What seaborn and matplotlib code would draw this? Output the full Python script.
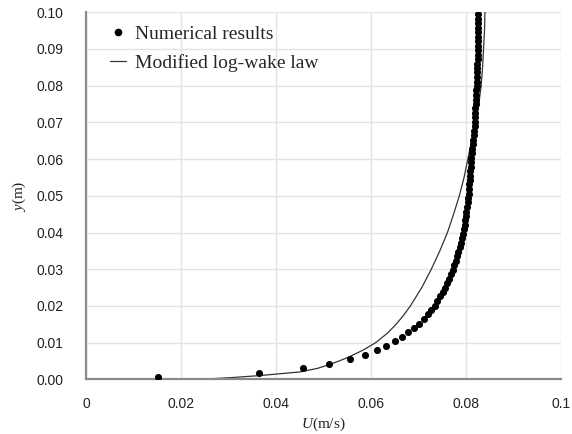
import matplotlib
matplotlib.use("Agg")
import matplotlib.pyplot as plt
import seaborn as sns
import pandas as pd
from matplotlib.lines import Line2D

# Numerical results (U in m/s, y in m)
num_y = [0.0006, 0.0018, 0.0030, 0.0043, 0.0055, 0.0067, 0.0079, 0.0091, 0.0104, 0.0116,
         0.0128, 0.0140, 0.0152, 0.0165, 0.0177, 0.0189, 0.0201, 0.0213, 0.0226, 0.0238,
         0.0250, 0.0262, 0.0274, 0.0287, 0.0299, 0.0311, 0.0323, 0.0335, 0.0348, 0.0360,
         0.0372, 0.0384, 0.0396, 0.0409, 0.0421, 0.0433, 0.0445, 0.0457, 0.0470, 0.0482,
         0.0494, 0.0506, 0.0518, 0.0531, 0.0543, 0.0555, 0.0567, 0.0579, 0.0592, 0.0604,
         0.0616, 0.0628, 0.0640, 0.0653, 0.0665, 0.0677, 0.0689, 0.0701, 0.0714, 0.0726,
         0.0738, 0.0750, 0.0762, 0.0775, 0.0787, 0.0799, 0.0811, 0.0823, 0.0836, 0.0848,
         0.0860, 0.0872, 0.0884, 0.0897, 0.0909, 0.0921, 0.0933, 0.0945, 0.0958, 0.0970,
         0.0982, 0.0994]
num_u = [0.0151, 0.0365, 0.0457, 0.0512, 0.0555, 0.0587, 0.0613, 0.0632, 0.0650, 0.0665,
         0.0679, 0.0691, 0.0702, 0.0712, 0.0720, 0.0727, 0.0734, 0.0740, 0.0746, 0.0751,
         0.0756, 0.0760, 0.0764, 0.0768, 0.0772, 0.0775, 0.0778, 0.0781, 0.0784, 0.0787,
         0.0789, 0.0791, 0.0793, 0.0795, 0.0797, 0.0799, 0.0800, 0.0801, 0.0803, 0.0804,
         0.0805, 0.0806, 0.0806, 0.0807, 0.0808, 0.0808, 0.0809, 0.0810, 0.0810, 0.0811,
         0.0812, 0.0813, 0.0814, 0.0815, 0.0816, 0.0817, 0.0818, 0.0818, 0.0819, 0.0820,
         0.0820, 0.0821, 0.0821, 0.0822, 0.0822, 0.0823, 0.0823, 0.0823, 0.0824, 0.0824,
         0.0824, 0.0825, 0.0825, 0.0825, 0.0825, 0.0826, 0.0826, 0.0826, 0.0826, 0.0826,
         0.0826, 0.0826]

# Modified log-wake law
law_y = [0.0, 0.0005, 0.001, 0.002, 0.003, 0.004, 0.005, 0.006, 0.008, 0.010,
         0.0125, 0.015, 0.0175, 0.020, 0.025, 0.030, 0.035, 0.040, 0.045, 0.050,
         0.055, 0.060, 0.065, 0.070, 0.075, 0.080, 0.085, 0.090, 0.095, 0.100]
law_u = [0.0243, 0.0310, 0.0364, 0.0450, 0.0488, 0.0512, 0.0533, 0.0552, 0.0584, 0.0610,
         0.0634, 0.0653, 0.0669, 0.0683, 0.0707, 0.0727, 0.0745, 0.0761, 0.0774, 0.0786,
         0.0796, 0.0804, 0.0812, 0.0820, 0.0827, 0.0832, 0.0835, 0.0837, 0.0839, 0.0840]

x_ticks = [0, 0.02, 0.04, 0.06, 0.08, 0.1]
x_labels = ["0", "0.02", "0.04", "0.06", "0.08", "0.1"]
y_ticks = [0.00, 0.01, 0.02, 0.03, 0.04, 0.05, 0.06, 0.07, 0.08, 0.09, 0.10]
y_labels = ["0.00", "0.01", "0.02", "0.03", "0.04", "0.05", "0.06", "0.07", "0.08", "0.09", "0.10"]

sns.set_style("white")
plt.rcParams["font.family"] = ["Liberation Sans", "DejaVu Sans"]
plt.rcParams["mathtext.fontset"] = "custom"
plt.rcParams["mathtext.it"] = "Liberation Serif:italic"
plt.rcParams["mathtext.rm"] = "Liberation Serif"

df_num = pd.DataFrame({"U": num_u, "y": num_y})
df_law = pd.DataFrame({"U": law_u, "y": law_y})

fig = plt.figure(figsize=(5.72, 4.34), dpi=100)
ax = fig.add_axes([0.1503, 0.126, 0.8304, 0.8457])

sns.lineplot(data=df_law, x="U", y="y", ax=ax, sort=False, estimator=None,
             color="#333333", linewidth=0.9, zorder=2)
sns.scatterplot(data=df_num, x="U", y="y", ax=ax, color="black", s=26,
                edgecolor="black", linewidth=0, zorder=3)

ax.set_xlim(0, 0.1)
ax.set_ylim(0, 0.1)
ax.set_xticks(x_ticks)
ax.set_xticklabels(x_labels)
ax.set_yticks(y_ticks)
ax.set_yticklabels(y_labels)
ax.tick_params(axis="both", length=0, labelsize=10, colors="#222222")
ax.tick_params(axis="x", pad=13)
ax.tick_params(axis="y", pad=16)

ax.grid(True, color="#e3e3e3", linewidth=1.0)
ax.set_axisbelow(True)
for s in ["top", "right"]:
    ax.spines[s].set_visible(False)
for s in ["left", "bottom"]:
    ax.spines[s].set_color("#8a8a8a")
    ax.spines[s].set_linewidth(1.6)

serif = ["Liberation Serif", "DejaVu Serif"]
ax.set_xlabel(r"$\mathit{U}$(m/s)", fontsize=11, family=serif, labelpad=3)
ax.set_ylabel(r"$\mathit{y}$(m)", fontsize=11, family=serif, labelpad=6)

handles = [
    Line2D([], [], marker="o", linestyle="none", color="black", markersize=4.5),
    Line2D([], [], color="#333333", linewidth=0.9),
]
ax.legend(handles, ["Numerical results", "Modified log-wake law"], loc="upper left",
          bbox_to_anchor=(0.035, 0.985), frameon=False,
          prop={"family": serif, "size": 14}, handlelength=0.8, handletextpad=0.45,
          labelspacing=0.55, borderaxespad=0)

fig.savefig("out.png", dpi=100)
